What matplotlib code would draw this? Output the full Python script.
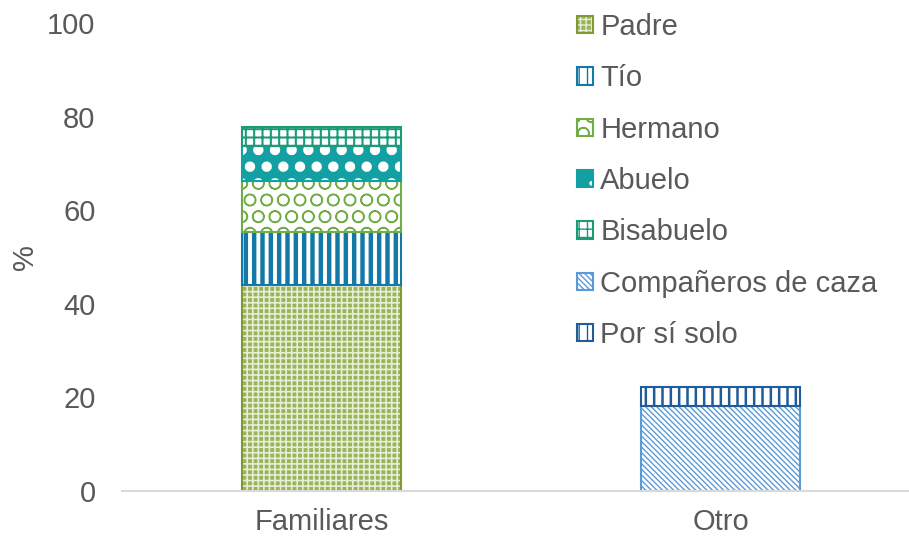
import matplotlib
matplotlib.use("Agg")
import matplotlib.pyplot as plt
from matplotlib.patches import Patch

plt.rcParams['font.family'] = ['Liberation Sans', 'DejaVu Sans']

categories = ["Familiares", "Otro"]
series = ["Padre", "Tío", "Hermano", "Abuelo", "Bisabuelo",
          "Compañeros de caza", "Por sí solo"]
padre = [44.0, 0]
tio = [11.3, 0]
hermano = [10.9, 0]
abuelo = [7.5, 0]
bisabuelo = [4.0, 0]
companeros = [0, 18.2]
por_si_solo = [0, 4.0]
values = [padre, tio, hermano, abuelo, bisabuelo, companeros, por_si_solo]

# face, hatch colour, hatch, hatch width, border
styles = [
    ("#9ab45c", "#e6eed5", "+++", 1.2, "#7f9a35"),
    ("#ffffff", "#1479a7", "||", 3.2, "#1479a7"),
    ("#ffffff", "#70ad47", "O", 1.0, "#70ad47"),
    ("#13a0a3", "#ffffff", ".", 5.0, "#13a0a3"),
    ("#ffffff", "#1d9a78", "++", 1.5, "#1d9a78"),
    ("#ffffff", "#5b9bd5", "\\\\\\\\\\\\", 1.0, "#5b9bd5"),
    ("#ffffff", "#1f5c99", "||", 1.8, "#1f5c99"),
]

text_col = "#595959"
fs = 21


def hatch_lw(patches, lw):
    for p in patches:
        if hasattr(p, "set_hatch_linewidth"):
            p.set_hatch_linewidth(lw)


fig = plt.figure(figsize=(9.09, 5.39), dpi=100)
ax = fig.add_axes([122 / 909, 48 / 539, 798 / 909, 468 / 539])

x = list(range(len(categories)))
bottoms = [0.0] * len(categories)
handles = []
for name, vals, (face, hcol, hatch, hlw, border) in zip(series, values, styles):
    xs = [i for i in x if vals[i] > 0]
    hs = [vals[i] for i in xs]
    bs = [bottoms[i] for i in xs]
    fill = ax.bar(xs, hs, 0.4, bottom=bs, color=face, edgecolor=hcol,
                  hatch=hatch, linewidth=0)
    hatch_lw(fill, hlw)
    if hatch == ".":
        # fill the holes left in the middle of the wide dots
        dots = ax.bar(xs, hs, 0.4, bottom=bs, fill=False, edgecolor=hcol,
                      hatch=".", linewidth=0)
        hatch_lw(dots, 2.0)
    ax.bar(xs, hs, 0.4, bottom=bs, fill=False, edgecolor=border, linewidth=1.5)
    for i in xs:
        bottoms[i] += vals[i]
    hp = Patch(facecolor=face, edgecolor=hcol, hatch=hatch, linewidth=0)
    hatch_lw([hp], min(hlw, 1.5))
    handles.append((hp, Patch(fill=False, edgecolor=border, linewidth=1.5)))

ax.set_xlim(-0.5, 1.5)
ax.set_ylim(0, 100)
ax.set_yticks(range(0, 101, 20))
ax.set_xticks(x)
ax.set_xticklabels(categories)
ax.tick_params(axis="both", length=0, labelsize=fs, colors=text_col)
ax.tick_params(axis="y", pad=19)
ax.tick_params(axis="x", pad=12)
for s in ["top", "right", "left"]:
    ax.spines[s].set_visible(False)
ax.spines["bottom"].set_color("#d9d9d9")
ax.spines["bottom"].set_linewidth(1.5)

ax.set_ylabel("%", fontsize=fs, color=text_col)
ax.yaxis.set_label_coords(-0.104, 0.5)

fig.legend(handles, series, loc="upper left",
           bbox_to_anchor=(577 / 909, 1 - 13 / 539), frameon=False,
           fontsize=fs, labelcolor=text_col, handlelength=0.55,
           handleheight=0.55, handletextpad=0.25, labelspacing=0.8,
           borderpad=0, borderaxespad=0)

fig.savefig("out.png", dpi=100)
